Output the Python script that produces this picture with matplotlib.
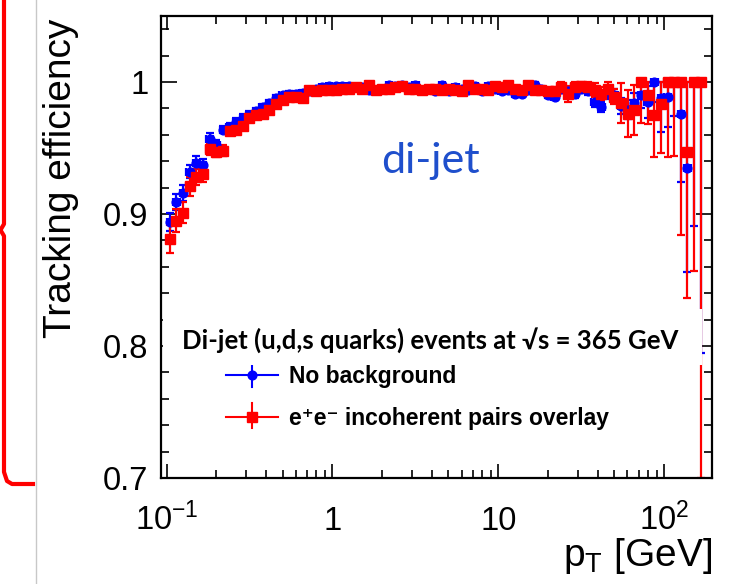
import numpy as np
import matplotlib
matplotlib.use('Agg')
import matplotlib.pyplot as plt
from matplotlib.ticker import MultipleLocator, LogLocator, NullFormatter
from matplotlib.lines import Line2D
from matplotlib.patches import Rectangle

plt.rcParams['font.family'] = ['Liberation Sans', 'DejaVu Sans']
plt.rcParams['mathtext.fontset'] = 'custom'
plt.rcParams['mathtext.rm'] = 'Liberation Sans'
plt.rcParams['mathtext.it'] = 'Liberation Sans:italic'
plt.rcParams['mathtext.bf'] = 'Liberation Sans:bold'

# pT binning: 25 log bins per decade from 0.1 GeV
pt_edges = np.logspace(-1.0, 2.24, 82)
pt = np.sqrt(pt_edges[:-1] * pt_edges[1:])

# tracking efficiency, no background
eff_nobkg = [
    0.894, 0.909, 0.916, 0.932, 0.939, 0.937, 0.957, 0.952, 0.964, 0.966,
    0.970, 0.973, 0.975, 0.978, 0.981, 0.984, 0.988, 0.990, 0.991, 0.991,
    0.992, 0.993, 0.995, 0.996, 0.997, 0.997, 0.997, 0.997, 0.996, 0.996,
    0.994, 0.994, 0.995, 0.998, 0.997, 0.998, 0.996, 0.998, 0.994, 0.995,
    0.993, 0.998, 0.993, 0.996, 0.995, 0.994, 0.997, 0.993, 0.997, 0.995,
    0.993, 0.994, 0.991, 0.991, 0.994, 0.998, 0.995, 0.990, 0.989, 0.995,
    0.993, 0.991, 0.995, 0.993, 0.985, 0.981, 0.991, 0.990, 0.982, 0.979,
    0.984, 0.990, 0.985, 1.000, 0.988, 0.989, 1.000, 0.976, 0.935, 1.000,
    1.000]
err_nobkg = [
    0.007, 0.006, 0.006, 0.005, 0.005, 0.005, 0.004, 0.004, 0.003, 0.003,
    0.003, 0.003, 0.003, 0.002, 0.002, 0.002, 0.002, 0.002, 0.002, 0.002,
    0.002, 0.001, 0.001, 0.001, 0.001, 0.001, 0.001, 0.001, 0.001, 0.001,
    0.001, 0.001, 0.001, 0.001, 0.001, 0.001, 0.001, 0.001, 0.001, 0.001,
    0.001, 0.001, 0.001, 0.001, 0.001, 0.001, 0.001, 0.001, 0.001, 0.001,
    0.001, 0.002, 0.002, 0.002, 0.002, 0.002, 0.002, 0.002, 0.003, 0.003,
    0.003, 0.003, 0.003, 0.003, 0.004, 0.004, 0.004, 0.005, 0.006, 0.007,
    0.008, 0.010, 0.012, 0.015, 0.026, 0.023, 0.026, 0.052, 0.079, 0.109,
    0.205]

# tracking efficiency with e+e- incoherent pairs overlaid
eff_pairs = [
    0.881, 0.895, 0.901, 0.921, 0.928, 0.930, 0.949, 0.947, 0.948, 0.963,
    0.964, 0.967, 0.973, 0.975, 0.976, 0.979, 0.983, 0.986, 0.989, 0.989,
    0.988, 0.994, 0.993, 0.994, 0.994, 0.994, 0.995, 0.995, 0.996, 0.995,
    0.998, 0.994, 0.995, 0.995, 0.996, 0.997, 0.995, 0.995, 0.994, 0.995,
    0.995, 0.994, 0.995, 0.994, 0.993, 0.998, 0.995, 0.995, 0.994, 0.997,
    0.996, 0.998, 0.995, 0.994, 0.998, 0.994, 0.994, 0.993, 0.993, 0.996,
    0.991, 0.996, 0.997, 0.996, 0.994, 0.991, 0.995, 0.989, 0.984, 0.976,
    0.979, 1.000, 0.990, 0.975, 0.983, 1.000, 1.000, 1.000, 0.947, 1.000,
    1.000]
err_pairs = [
    0.0105, 0.009, 0.008, 0.007, 0.006, 0.006, 0.004, 0.004, 0.004, 0.003,
    0.003, 0.003, 0.003, 0.002, 0.002, 0.002, 0.002, 0.002, 0.002, 0.002,
    0.002, 0.001, 0.001, 0.001, 0.001, 0.001, 0.001, 0.001, 0.001, 0.001,
    0.001, 0.001, 0.001, 0.001, 0.001, 0.001, 0.001, 0.001, 0.001, 0.001,
    0.001, 0.001, 0.001, 0.001, 0.001, 0.001, 0.001, 0.001, 0.001, 0.001,
    0.001, 0.002, 0.002, 0.002, 0.002, 0.002, 0.002, 0.002, 0.003, 0.004,
    0.006, 0.004, 0.004, 0.004, 0.005, 0.005, 0.005, 0.006, 0.015, 0.018,
    0.019, 0.031, 0.022, 0.032, 0.037, 0.057, 0.056, 0.116, 0.111, 0.143,
    0.300]

xtick_vals = [0.1, 1, 10, 100]
xtick_text = [r'$\mathregular{10^{-1}}$', '1', '10', r'$\mathregular{10^{2}}$']
ytick_vals = [0.7, 0.8, 0.9, 1.0]
ytick_text = ['0.7', '0.8', '0.9', '1']

W, H = 730, 584
fig = plt.figure(figsize=(W / 100, H / 100), dpi=100)


def fx(px):
    return px / W


def fy(py):
    return 1 - py / H


ax_l, ax_r, ax_t, ax_b = 161, 712, 16, 478
ax = fig.add_axes([fx(ax_l), fy(ax_b), (ax_r - ax_l) / W, (ax_b - ax_t) / H])


def to_ax(px, py):
    return (px - ax_l) / (ax_r - ax_l), (ax_b - py) / (ax_b - ax_t)


ax.set_xscale('log')
ax.set_xlim(0.0926, 194.0)
ax.set_ylim(0.7, 1.05)

xerr = [pt - pt_edges[:-1], pt_edges[1:] - pt]


def draw_eff(vals, errs, color, marker, ms):
    vals = np.array(vals)
    errs = np.array(errs)
    up = np.minimum(errs, 1.0 - vals)
    ax.errorbar(pt, vals, yerr=[errs, up], xerr=xerr, fmt=marker, color=color,
                ms=ms, mec=color, mfc=color, elinewidth=1.6, capsize=2.6,
                capthick=1.6, zorder=2)


draw_eff(eff_nobkg, err_nobkg, '#0000ff', 'o', 6.3)
draw_eff(eff_pairs, err_pairs, '#ff0000', 's', 6.8)

# axis style
for s in ax.spines.values():
    s.set_linewidth(1.6)
    s.set_zorder(5)
ax.set_yticks(ytick_vals, ytick_text)
ax.yaxis.set_minor_locator(MultipleLocator(0.02))
ax.xaxis.set_major_locator(LogLocator(base=10, numticks=10))
ax.xaxis.set_minor_locator(LogLocator(base=10, subs=np.arange(2, 10), numticks=20))
ax.xaxis.set_major_formatter(NullFormatter())
ax.xaxis.set_minor_formatter(NullFormatter())
ax.tick_params(which='both', direction='in', top=True, right=True, width=1.2)
ax.tick_params(axis='y', which='major', length=11.5, labelsize=23.5, pad=9)
ax.tick_params(axis='x', which='major', length=10)
ax.tick_params(which='minor', length=5.5)

xtr = ax.get_xaxis_transform()
for v, t in zip(xtick_vals, xtick_text):
    ax.text(v, to_ax(0, 530)[1], t, transform=xtr, ha='center', va='baseline',
            fontsize=23.5, clip_on=False)

ax.text(1.0, to_ax(0, 566)[1], r'p$_{\mathregular{T}}$ [GeV]', transform=ax.transAxes,
        ha='right', va='baseline', fontsize=28, clip_on=False)
fig.text(fx(61), fy(19), 'Tracking efficiency', rotation=90, ha='center', va='top',
         fontsize=28)

ax.text(*to_ax(381, 173), 'di-jet', transform=ax.transAxes, color='#1f4fcc',
        fontsize=31, family=['Lato', 'DejaVu Sans'], ha='left', va='baseline')

# header box
bx0, by0 = to_ax(163, 365)
bx1, by1 = to_ax(702, 309)
ax.add_patch(Rectangle((bx0, by0), bx1 - bx0, by1 - by0, transform=ax.transAxes,
                       facecolor='white', edgecolor='none', zorder=3))
ax.text(*to_ax(181.5, 348.3), 'Di-jet (u,d,s quarks) events at \u221as = 365 GeV',
        transform=ax.transAxes, fontsize=18.5, fontweight='bold',
        family=['Lato', 'DejaVu Sans'], ha='left', va='baseline', zorder=4)

# legend entries
entries = [('No background', '#0000ff', 'o', 6.3, 375.0, 365.0, 387.0),
           ('e\u207ae\u207b incoherent pairs overlay', '#ff0000', 's', 6.8,
            416.7, 403.0, 428.0)]
for label, col, mk, ms, yc, ytop, ybot in entries:
    x0, yy = to_ax(225.8, yc)
    x1, _ = to_ax(277.6, yc)
    xm, _ = to_ax(251.7, yc)
    _, yt = to_ax(0, ytop)
    _, yb = to_ax(0, ybot)
    ax.plot([x0, x1], [yy, yy], color=col, lw=1.5, transform=ax.transAxes, clip_on=False)
    ax.plot([xm, xm], [yb, yt], color=col, lw=1.5, transform=ax.transAxes, clip_on=False)
    ax.plot([xm], [yy], marker=mk, ms=ms, color=col, transform=ax.transAxes, clip_on=False)
    ax.text(*to_ax(288.7, yc + 8.3), label, transform=ax.transAxes, fontsize=16.5,
            fontweight='bold', ha='left', va='baseline')

# slide decorations at the left edge
brace_x = [4, 4, 0.5, 4, 4, 7, 12, 33]
brace_y = [0, 224, 230, 236, 472, 481, 484, 484]
fig.add_artist(Line2D([fx(v) for v in brace_x], [fy(v) for v in brace_y],
                      color='#ff0000', lw=3, transform=fig.transFigure))
fig.add_artist(Line2D([fx(36), fx(36)], [0, 1], color='#c8c8c8', lw=1,
                      transform=fig.transFigure))

fig.savefig('out.png', dpi=100)
